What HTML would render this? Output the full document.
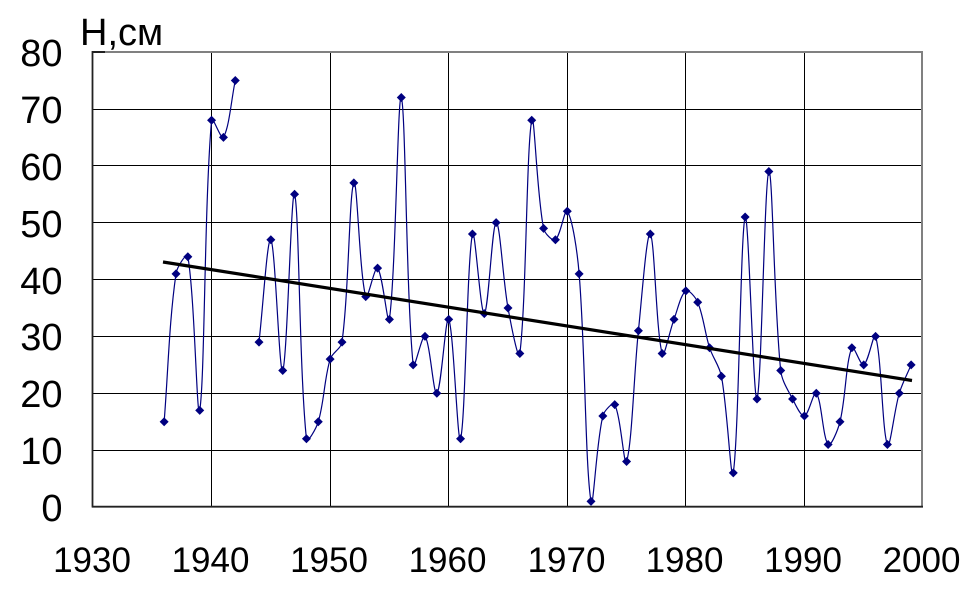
<!DOCTYPE html>
<html>
<head>
<meta charset="utf-8">
<style>
  html, body { margin:0; padding:0; background:#fff; }
  body { width:970px; height:604px; overflow:hidden; }
  svg { display:block; }
  text { font-family: "Liberation Sans", Arial, sans-serif; fill:#000; }
</style>
</head>
<body>
<svg id="chart" width="970" height="604" viewBox="0 0 970 604" xmlns="http://www.w3.org/2000/svg">
  <rect x="0" y="0" width="970" height="604" fill="#fff"/>
  <!-- horizontal gridlines -->
  <g stroke="#000" stroke-width="1">
    <line x1="93" y1="450.5" x2="922" y2="450.5"/>
    <line x1="93" y1="393.5" x2="922" y2="393.5"/>
    <line x1="93" y1="336.5" x2="922" y2="336.5"/>
    <line x1="93" y1="279.5" x2="922" y2="279.5"/>
    <line x1="93" y1="222.5" x2="922" y2="222.5"/>
    <line x1="93" y1="165.5" x2="922" y2="165.5"/>
    <line x1="93" y1="109.5" x2="922" y2="109.5"/>
    <!-- vertical gridlines -->
    <line x1="211.5" y1="52" x2="211.5" y2="507"/>
    <line x1="330.5" y1="52" x2="330.5" y2="507"/>
    <line x1="448.5" y1="52" x2="448.5" y2="507"/>
    <line x1="567.5" y1="52" x2="567.5" y2="507"/>
    <line x1="685.5" y1="52" x2="685.5" y2="507"/>
    <line x1="804.5" y1="52" x2="804.5" y2="507"/>
  </g>
  <!-- frame: top/right gray -->
  <line x1="93" y1="52" x2="923" y2="52" stroke="#808080" stroke-width="2"/>
  <line x1="922" y1="52" x2="922" y2="507" stroke="#808080" stroke-width="2"/>
  <line x1="93" y1="52" x2="105" y2="52" stroke="#000" stroke-width="1.5"/>
  <!-- axes: left/bottom dark -->
  <line x1="92.5" y1="51" x2="92.5" y2="507.5" stroke="#222" stroke-width="1.8"/>
  <line x1="92" y1="506.7" x2="923" y2="506.7" stroke="#222" stroke-width="1.8"/>

  <g id="series"></g>

  <!-- trend line -->
  <line x1="163" y1="262" x2="912" y2="380.5" stroke="#000" stroke-width="3.2"/>

  <!-- y tick labels -->
  <g font-size="38" text-anchor="end">
    <text x="62.5" y="66">80</text>
    <text x="62.5" y="123">70</text>
    <text x="62.5" y="180">60</text>
    <text x="62.5" y="237">50</text>
    <text x="62.5" y="294">40</text>
    <text x="62.5" y="350">30</text>
    <text x="62.5" y="407">20</text>
    <text x="62.5" y="464">10</text>
    <text x="62.5" y="521">0</text>
  </g>
  <!-- x tick labels -->
  <g font-size="35" text-anchor="middle">
    <text x="92" y="572">1930</text>
    <text x="210.5" y="572">1940</text>
    <text x="329" y="572">1950</text>
    <text x="447.5" y="572">1960</text>
    <text x="566.5" y="572">1970</text>
    <text x="684.5" y="572">1980</text>
    <text x="803" y="572">1990</text>
    <text x="921.5" y="572">2000</text>
  </g>
  <text x="80" y="45" font-size="38">H,см</text>
</svg>
<script>
(function(){
  var data = [
    [[1936,15],[1937,41],[1938,44],[1939,17],[1940,68],[1941,65],[1942,75]],
    [[1944,29],[1945,47],[1946,24],[1947,55],[1948,12],[1949,15],[1950,26],[1951,29],
     [1952,57],[1953,37],[1954,42],[1955,33],[1956,72],[1957,25],[1958,30],[1959,20],
     [1960,33],[1961,12],[1962,48],[1963,34],[1964,50],[1965,35],[1966,27],[1967,68],
     [1968,49],[1969,47],[1970,52],[1971,41],[1972,1],[1973,16],[1974,18],[1975,8],
     [1976,31],[1977,48],[1978,27],[1979,33],[1980,38],[1981,36],[1982,28],[1983,23],
     [1984,6],[1985,51],[1986,19],[1987,59],[1988,24],[1989,19],[1990,16],[1991,20],
     [1992,11],[1993,15],[1994,28],[1995,25],[1996,30],[1997,11],[1998,20],[1999,25]]
  ];
  function X(y){ return 93 + (y-1930)*11.857; }
  function Y(v){ return 507 - v*5.6875; }
  function dist(a,b){ var dx=a[0]-b[0], dy=a[1]-b[1]; return Math.sqrt(dx*dx+dy*dy); }
  var ns = "http://www.w3.org/2000/svg";
  var g = document.getElementById("series");
  var T = 1/3;
  data.forEach(function(seg){
    var p = seg.map(function(d){ return [X(d[0]), Y(d[1])]; });
    var n = p.length;
    // tangent vectors and control arms
    function ctrlOut(i){ // control leaving p[i] toward p[i+1]
      var prev = p[i-1], next = p[i+1];
      if (!prev) { return [p[i][0] + (next[0]-p[i][0])*T, p[i][1] + (next[1]-p[i][1])*T]; }
      var d1 = dist(prev,p[i]), d2 = dist(p[i],next);
      var f = d2/(d1+d2)*T;
      return [p[i][0] + (next[0]-prev[0])*f, p[i][1] + (next[1]-prev[1])*f];
    }
    function ctrlIn(i){ // control arriving at p[i] from p[i-1]
      var prev = p[i-1], next = p[i+1];
      if (!next) { return [p[i][0] - (p[i][0]-prev[0])*T, p[i][1] - (p[i][1]-prev[1])*T]; }
      var d1 = dist(prev,p[i]), d2 = dist(p[i],next);
      var f = d1/(d1+d2)*T;
      return [p[i][0] - (next[0]-prev[0])*f, p[i][1] - (next[1]-prev[1])*f];
    }
    var d = "M" + p[0][0].toFixed(2) + "," + p[0][1].toFixed(2);
    for (var i=0;i<n-1;i++){
      var c1 = ctrlOut(i), c2 = ctrlIn(i+1);
      d += " C" + c1[0].toFixed(2)+","+c1[1].toFixed(2)+" "+c2[0].toFixed(2)+","+c2[1].toFixed(2)+" "+p[i+1][0].toFixed(2)+","+p[i+1][1].toFixed(2);
    }
    var path = document.createElementNS(ns,"path");
    path.setAttribute("d", d);
    path.setAttribute("fill","none");
    path.setAttribute("stroke","#000080");
    path.setAttribute("stroke-width","1.2");
    g.appendChild(path);
    p.forEach(function(q){
      var poly = document.createElementNS(ns,"polygon");
      var s = 4.5;
      poly.setAttribute("points",
        q[0]+","+(q[1]-s)+" "+(q[0]+s)+","+q[1]+" "+q[0]+","+(q[1]+s)+" "+(q[0]-s)+","+q[1]);
      poly.setAttribute("fill","#000080");
      g.appendChild(poly);
    });
  });
})();
</script>
</body>
</html>
